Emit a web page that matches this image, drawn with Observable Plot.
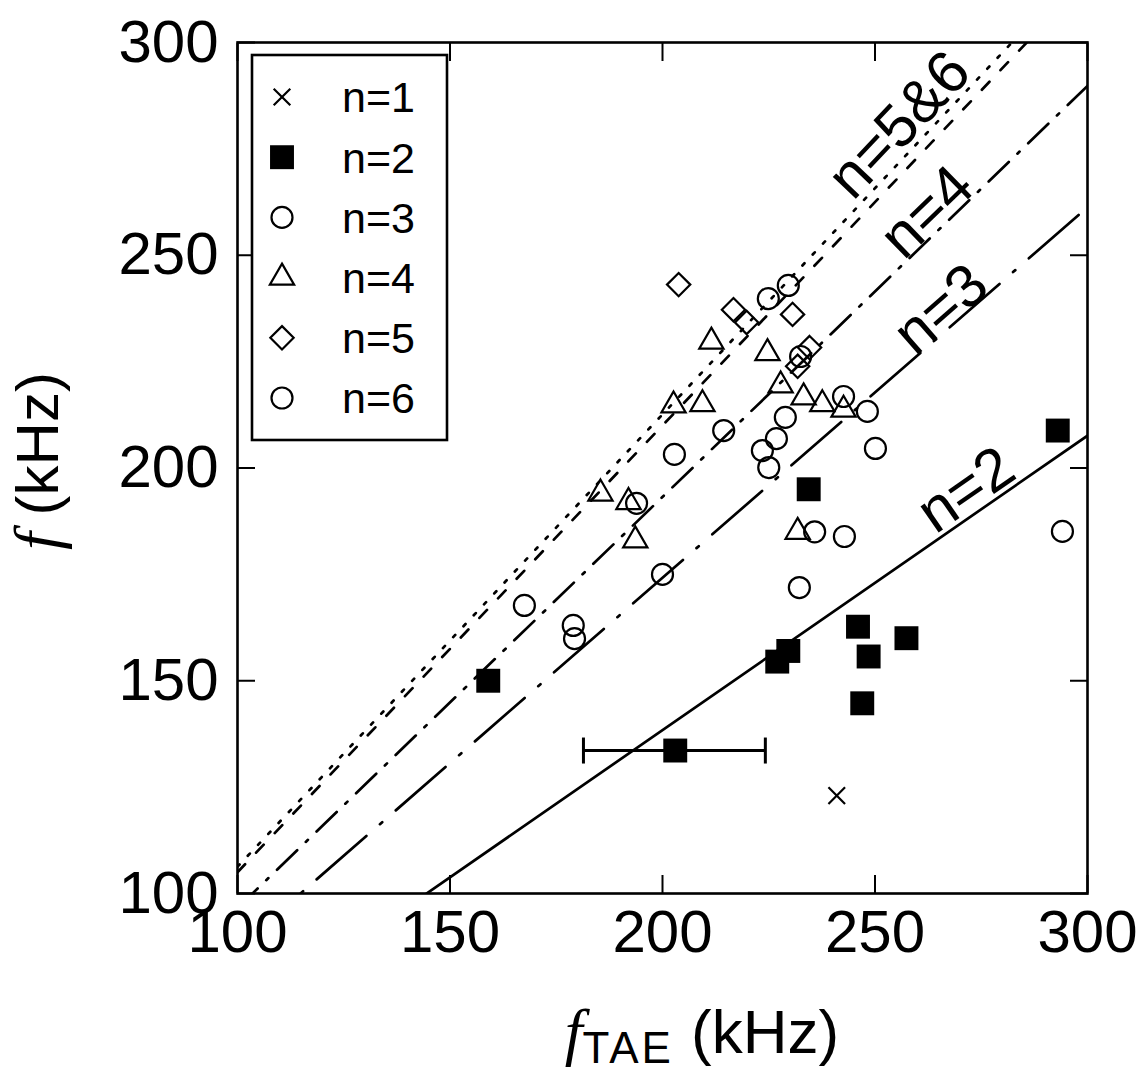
<!DOCTYPE html>
<html><head><meta charset="utf-8">
<script src="https://cdn.jsdelivr.net/npm/d3@7"></script>
<script src="https://cdn.jsdelivr.net/npm/@observablehq/plot@0.6"></script>
<style>
html,body{margin:0;padding:0;background:#fff;overflow:hidden}
</style></head><body><div id="chart"></div>
<script>
// ---- data ----
const xTicks = [100, 150, 200, 250, 300];
const yTicks = [100, 150, 200, 250, 300];

const n1X = [241];
const n1Y = [123];

const n2X = [159, 203, 227, 229.6, 234.4, 246, 248.5, 247, 257.4, 293];
const n2Y = [150, 133.6, 154.5, 157, 195, 162.7, 155.7, 144.7, 160, 208.8];

const n3X = [179, 179.3, 200, 223.5, 225, 226.8, 228.9, 242.6, 248.2, 250.1, 235.8, 242.8, 232.2, 294.1];
const n3Y = [163, 159.9, 175, 204.1, 200.1, 206.9, 211.9, 216.8, 213.3, 204.6, 185, 183.9, 171.9, 185.1];

const n4X = [185.4, 192, 193.6, 202.6, 209.4, 211.5, 224.7, 227.8, 233.2, 237.6, 242.6, 231.8];
const n4Y = [194, 192, 183, 214.7, 215, 229.7, 227, 219.4, 216.6, 215, 213.7, 185];

const n5X = [203.8, 216.7, 219.8, 230.6, 234.6, 231.8];
const n5Y = [243.1, 237.2, 234.2, 236.1, 228.3, 223.9];

const n6X = [167.5, 193.9, 202.8, 214.4, 224.9, 229.6, 232.5];
const n6Y = [167.7, 191.7, 203.2, 208.8, 239.8, 242.9, 226.2];

// error bar on one n=2 point
const errY = [133.6];
const errX1 = [181.4];
const errX2 = [224.2];

// theory lines f = k * fTAE
const lineNames = ["n=2", "n=3", "n=4", "n=5", "n=6"];
const lineSlopes = [0.692, 0.871, 0.966, 1.063, 1.050];
const lineDash = [null, "66,18,3,18", "28,12,3,12", "3,12", "11,16"];

const lineLabels = ["n=2", "n=3", "n=4", "n=5&6"];
const labelSlopes = [0.692, 0.871, 0.966, 1.056];
const labelX = [274, 268.5, 265.4, 259];
const labelLift = [1.5, 0, 0.5, 4];

const legendLabels = ["n=1", "n=2", "n=3", "n=4", "n=5", "n=6"];

// ---- layout ----
const W = 1144, H = 1074;
const mL = 237, mR = 57, mT = 42, mB = 181;
const pxX = (W - mL - mR) / 200, pxY = (H - mT - mB) / 200;
const FONT = "'Liberation Sans', Arial, Helvetica, sans-serif";
const SERIF = "'Liberation Serif', 'Times New Roman', serif";

const rCircle = 10.5, rSquare = 13.5, rTri = 9, rDia = 10.5, rTimes = 7.6;

const capSymbol = {draw(c) { c.moveTo(0, -13); c.lineTo(0, 13); }};

const lineMarks = lineSlopes.map((k, i) =>
  Plot.line([[100, 100 * k], [300, 300 * k]], {
    x: d => d[0], y: d => d[1], stroke: "black", strokeWidth: 2.7,
    strokeDasharray: lineDash[i], clip: true
  })
);

const labelY = labelX.map((x, i) => x * labelSlopes[i] + labelLift[i]);
const labelRot = labelSlopes.map(k => -Math.atan(k * pxY / pxX) * 180 / Math.PI);

const chart = Plot.plot({
  width: W, height: H,
  marginLeft: mL, marginRight: mR, marginTop: mT, marginBottom: mB,
  x: {domain: [100, 300]},
  y: {domain: [100, 300]},
  style: {fontFamily: FONT, fontSize: "60px", background: "white", color: "black"},
  marks: [
    ...lineMarks,
    Plot.text(lineLabels, {x: labelX, y: labelY, text: lineLabels, rotate: labelRot,
      fontSize: 60, textAnchor: "middle", lineAnchor: "bottom", fill: "black"}),
    Plot.ruleY(errY, {y: errY, x1: errX1, x2: errX2, stroke: "black", strokeWidth: 3}),
    Plot.dot([...errX1, ...errX2], {x: [...errX1, ...errX2], y: [...errY, ...errY], symbol: capSymbol, stroke: "black", strokeWidth: 3}),
    Plot.dot(n1X, {x: n1X, y: n1Y, symbol: "times", r: rTimes, stroke: "black", strokeWidth: 2.2}),
    Plot.dot(n2X, {x: n2X, y: n2Y, symbol: "square", r: rSquare, fill: "black", stroke: "none"}),
    Plot.dot(n3X, {x: n3X, y: n3Y, symbol: "circle", r: rCircle, fill: "none", stroke: "black", strokeWidth: 2.2}),
    Plot.dot(n4X, {x: n4X, y: n4Y, symbol: "triangle", r: rTri, fill: "none", stroke: "black", strokeWidth: 2.2}),
    Plot.dot(n5X, {x: n5X, y: n5Y, symbol: "diamond2", r: rDia, fill: "none", stroke: "black", strokeWidth: 2.2}),
    Plot.dot(n6X, {x: n6X, y: n6Y, symbol: "circle", r: rCircle, fill: "none", stroke: "black", strokeWidth: 2.2}),
    Plot.frame({stroke: "black", strokeWidth: 2.6}),
    Plot.axisX(xTicks, {anchor: "bottom", tickSize: 0, tickPadding: 16, label: null, fontSize: 60}),
    Plot.axisY(yTicks, {anchor: "left", tickSize: 0, tickPadding: 19, label: null, fontSize: 60}),
    Plot.axisX(xTicks, {anchor: "bottom", tickSize: 18, dy: -18, tickFormat: () => "", label: null, strokeWidth: 2}),
    Plot.axisX(xTicks, {anchor: "top", tickSize: 18, dy: 18, tickFormat: () => "", label: null, strokeWidth: 2}),
    Plot.axisY(yTicks, {anchor: "left", tickSize: 18, dx: 18, tickFormat: () => "", label: null, strokeWidth: 2}),
    Plot.axisY(yTicks, {anchor: "right", tickSize: 18, dx: -18, tickFormat: () => "", label: null, strokeWidth: 2})
  ]
});
document.getElementById("chart").appendChild(chart);

// ---- legend ----
const svg = d3.select(chart);
const lg = svg.append("g");
lg.append("rect").attr("x", 252).attr("y", 55).attr("width", 195).attr("height", 385)
  .attr("fill", "white").attr("stroke", "black").attr("stroke-width", 2.6);
const legSym = [
  {type: d3.symbolTimes, r: rTimes, fill: "none"},
  {type: d3.symbolSquare, r: rSquare, fill: "black"},
  {type: d3.symbolCircle, r: rCircle, fill: "none"},
  {type: d3.symbolTriangle, r: rTri, fill: "none"},
  {type: d3.symbolDiamond2, r: rDia, fill: "none"},
  {type: d3.symbolCircle, r: rCircle, fill: "none"}
];
legendLabels.forEach((lab, i) => {
  const cy = 97 + i * 60.2;
  const s = legSym[i];
  lg.append("path")
    .attr("d", d3.symbol(s.type, Math.PI * s.r * s.r)())
    .attr("transform", `translate(282,${cy})`)
    .attr("fill", s.fill)
    .attr("stroke", s.fill === "black" ? "none" : "black")
    .attr("stroke-width", 2.2);
  lg.append("text").attr("x", 342).attr("y", cy).attr("dy", "0.36em")
    .attr("text-anchor", "start")
    .attr("font-family", FONT).attr("font-size", 43).attr("fill", "black").text(lab);
});

// ---- axis titles ----
const yt = svg.append("text").attr("transform", "translate(58,461) rotate(-90)")
  .attr("text-anchor", "middle").attr("font-family", FONT).attr("font-size", 60).attr("fill", "black");
yt.append("tspan").attr("font-family", SERIF).attr("font-style", "italic").attr("font-size", 64).text("f");
yt.append("tspan").text(" (kHz)");

const xt = svg.append("text").attr("x", 702).attr("y", 1053)
  .attr("text-anchor", "middle").attr("font-family", FONT).attr("font-size", 62).attr("fill", "black");
xt.append("tspan").attr("font-family", SERIF).attr("font-style", "italic").attr("font-size", 64).text("f");
xt.append("tspan").attr("font-size", 44).attr("dy", 10).attr("letter-spacing", 3).text("TAE");
xt.append("tspan").attr("dy", -10).text(" (kHz)");
</script>
</body></html>
